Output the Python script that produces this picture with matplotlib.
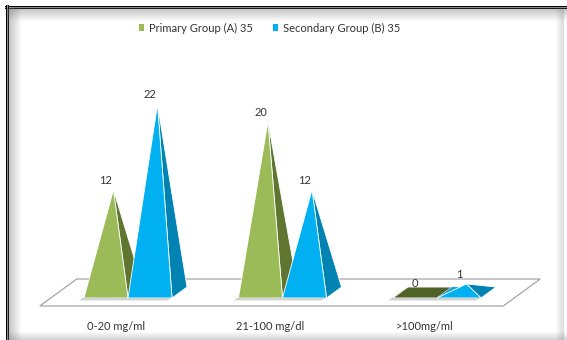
import matplotlib.pyplot as plt
from matplotlib.patches import Polygon, Patch
from matplotlib.lines import Line2D

categories = ['0-20 mg/ml', '21-100 mg/dl', '>100mg/ml']
primary = [12, 20, 0]
secondary = [22, 12, 1]
series_names = ['Primary Group (A) 35', 'Secondary Group (B) 35']

# front face, side face, flat (zero height) colours per series
colors = [
    dict(face='#9BBB59', side='#5F7530', flat='#4F6228'),
    dict(face='#00B0F0', side='#0083B3', flat='#1AA3DA'),
]

plt.rcParams['font.family'] = ['Lato', 'DejaVu Sans']
TEXT = '#333333'
FS = 8

W, H = 567, 340
fig = plt.figure(figsize=(W / 100, H / 100), dpi=100)

# chart area: x in category units, y in value units
ax = fig.add_axes([0, 0, 1, 1])
ax.set_xlim(-0.8285, 2.8414)
ax.set_ylim(-5.556, 34.21)
ax.axis('off')

w = 0.285      # pyramid base width (category units)
dh = 0.64      # half depth of a pyramid base (value units)
k = 0.0757     # horizontal shift per value unit of depth
fd = 1.58      # half depth of the floor

# floor
n = len(categories)
floor = [(-0.5 - k * (fd - dh), -fd), (n - 0.5 - k * (fd - dh), -fd),
         (n - 0.5 + k * (fd + dh), fd), (-0.5 + k * (fd + dh), fd)]
ax.add_patch(Polygon(floor, closed=True, facecolor='white',
                     edgecolor='#A6A6A6', lw=0.9, zorder=1))


def pyramid(x0, v, c):
    fl = (x0, -dh)
    fr = (x0 + w, -dh)
    br = (x0 + w + 2 * k * dh, dh)
    bl = (x0 + 2 * k * dh, dh)
    apex = (x0 + w / 2 + k * dh, v)
    # soft shadow under the base
    for i, a in enumerate([0.18, 0.14, 0.10]):
        off = 0.012 * (i + 1)
        sh = [(p[0] - off, p[1] - 0.12 * (i + 1)) for p in (fl, fr, br, bl)]
        ax.add_patch(Polygon(sh, closed=True, facecolor='#404040',
                             edgecolor='none', alpha=a, zorder=2))
    if v <= 0:
        ax.add_patch(Polygon([fl, fr, br, bl], closed=True,
                             facecolor=c['flat'], edgecolor='white',
                             lw=0.6, zorder=3))
        return
    ax.add_patch(Polygon([fl, fr, br, bl], closed=True, facecolor=c['flat'],
                         edgecolor='none', zorder=3))
    ax.add_patch(Polygon([fr, br, apex], closed=True, facecolor=c['side'],
                         edgecolor='white', lw=0.6, zorder=4))
    ax.add_patch(Polygon([fl, fr, apex], closed=True, facecolor=c['face'],
                         edgecolor='white', lw=0.6, zorder=5))


for i in range(n):
    for s, vals in enumerate([primary, secondary]):
        x0 = i - w + s * w
        pyramid(x0, vals[i], colors[s])
        ax.text(x0 + w / 2, vals[i] + 1.1, str(vals[i]), ha='center',
                va='center', fontsize=FS, color=TEXT, zorder=6)
    ax.text(i - 0.08, -3.92, categories[i], ha='center', va='center',
            fontsize=FS, color=TEXT)

handles = [Patch(facecolor=colors[s]['face'], label=series_names[s])
           for s in range(2)]
fig.legend(handles=handles, loc='center', bbox_to_anchor=(0.475, 1 - 28 / H),
           ncol=2, frameon=False, fontsize=FS, handlelength=0.5,
           handleheight=0.5, handletextpad=0.4, columnspacing=1.8,
           labelcolor=TEXT)

# outer frame with an inner shadow
fr_ax = fig.add_axes([0, 0, 1, 1], zorder=10)
fr_ax.set_xlim(0, W)
fr_ax.set_ylim(H, 0)
fr_ax.axis('off')
px = 0.72
for y, col in [(5.5, '#000000'), (6.5, '#8c8c8c'), (7.5, '#1a1a1a')]:
    fr_ax.add_line(Line2D([5, W], [y, y], color=col, lw=px))
for x, col in [(5.5, '#000000'), (6.5, '#8c8c8c'), (7.5, '#1a1a1a')]:
    fr_ax.add_line(Line2D([x, x], [5, H], color=col, lw=px))
for j in range(12):
    a = 0.35 * (1 - j / 12)
    fr_ax.add_line(Line2D([8, W], [8.5 + j, 8.5 + j], color='#606060',
                          alpha=a, lw=px))
    fr_ax.add_line(Line2D([8.5 + j, 8.5 + j], [8, H], color='#606060',
                          alpha=a, lw=px))
for j in range(8):
    a = 0.22 * (1 - j / 8)
    fr_ax.add_line(Line2D([W - 4.5 - j, W - 4.5 - j], [8, H], color='#606060',
                          alpha=a, lw=px))
for j in range(9):
    a = 0.3 * (1 - j / 9)
    fr_ax.add_line(Line2D([8, W], [H - 0.5 - j, H - 0.5 - j], color='#606060',
                          alpha=a, lw=px))

fig.savefig('out.png', dpi=100)
